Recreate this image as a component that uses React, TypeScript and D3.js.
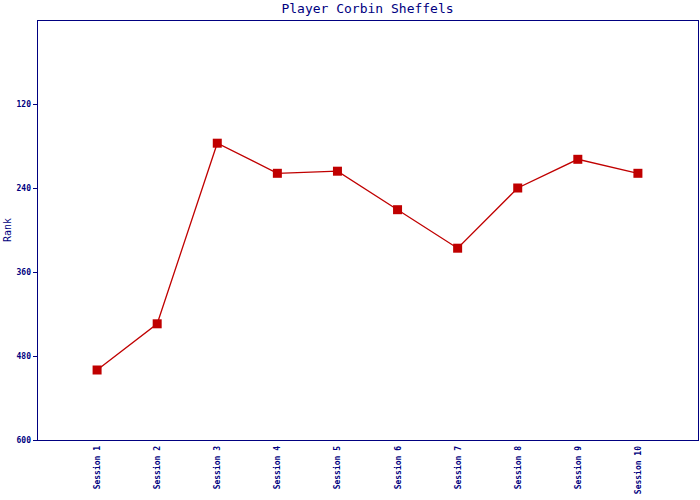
import React from "react";
import * as d3 from "d3";

const sessions = ["Session 1","Session 2","Session 3","Session 4","Session 5","Session 6","Session 7","Session 8","Session 9","Session 10"];
const ranks = [500, 434, 176, 219, 216, 271, 326, 240, 199, 219];
const yTicks = [120, 240, 360, 480, 600];

const W = 700, H = 500;
const M = { left: 37, top: 20, right: 698, bottom: 440 };
const blue = "#000080";
const red = "#c00000";
const font = "DejaVu Sans Mono, monospace";

export default function App() {
  const x = d3.scalePoint<string>().domain(sessions).range([M.left, M.right]).padding(1);
  const y = d3.scaleLinear().domain([0, 600]).range([M.top, M.bottom]);
  const line = d3.line<number>().x((_, i) => x(sessions[i])!).y(d => y(d));
  return (
    <svg width={W} height={H} style={{ position: "absolute", left: 0, top: 0 }}>
      <rect x={0} y={0} width={W} height={H} fill="#fff" />
      <text x={(M.left + M.right) / 2} y={13} textAnchor="middle" fontFamily={font} fontSize={13} fill={blue}>Player Corbin Sheffels</text>
      <rect x={M.left + 0.5} y={M.top + 0.5} width={M.right - M.left} height={M.bottom - M.top} fill="none" stroke={blue} strokeWidth={1} />
      {yTicks.map(t => (
        <g key={t}>
          <line x1={M.left - 4} x2={M.left} y1={Math.round(y(t)) + 0.5} y2={Math.round(y(t)) + 0.5} stroke={blue} />
          <text x={M.left - 6} y={y(t) + 3} textAnchor="end" fontFamily={font} fontSize={8} fontWeight="bold" fill={blue}>{t}</text>
        </g>
      ))}
      <text transform={`translate(11,${(M.top + M.bottom) / 2}) rotate(-90)`} textAnchor="middle" fontFamily={font} fontSize={10} fill={blue}>Rank</text>
      {sessions.map(s => (
        <text key={s} transform={`translate(${x(s)! + 3},${M.bottom + 6}) rotate(-90)`} textAnchor="end" fontFamily={font} fontSize={8} fontWeight="bold" fill={blue}>{s}</text>
      ))}
      <path d={line(ranks)!} fill="none" stroke={red} strokeWidth={1.3} />
      {ranks.map((r, i) => (
        <rect key={i} x={x(sessions[i])! - 4.5} y={y(r) - 4.5} width={9} height={9} fill={red} />
      ))}
    </svg>
  );
}
